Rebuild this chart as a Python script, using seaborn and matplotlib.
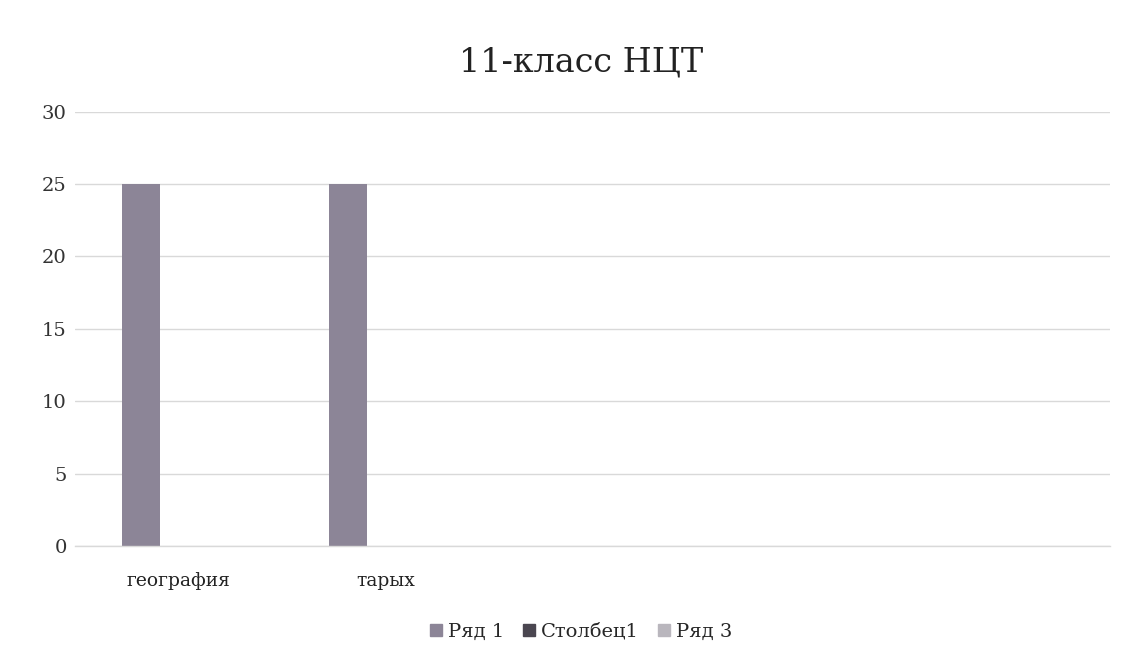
import pandas as pd
import matplotlib.pyplot as plt
import seaborn as sns

# chart data
subjects = ["география", "тарых"]
series_names = ["Ряд 1", "Столбец1", "Ряд 3"]
row1 = [25, 25]
column1 = [0, 0]
row3 = [0, 0]
n_slots = 5  # category slots on the axis (three of them empty)

colors = ["#8c8597", "#4a4650", "#b9b6bd"]

df = pd.DataFrame({
    "subject": subjects * 3,
    "series": [s for s in series_names for _ in subjects],
    "value": row1 + column1 + row3,
})

sns.set_theme(style="white")
plt.rcParams["font.family"] = ["DejaVu Serif"]

fig = plt.figure(figsize=(11.22, 6.61), dpi=100)
ax = fig.add_axes([0.067, 0.174, 0.922, 0.657])

sns.barplot(data=df, x="subject", y="value", hue="series", order=subjects,
            hue_order=series_names, palette=colors, width=0.55,
            saturation=1, legend=False, linewidth=0, ax=ax)

ax.set_xlim(-0.5, n_slots - 0.5)
ax.set_ylim(0, 30)
ax.set_yticks(range(0, 31, 5))
ax.yaxis.grid(True, color="#d9d9d9", linewidth=1)
ax.set_axisbelow(True)
for side in ["top", "right", "left"]:
    ax.spines[side].set_visible(False)
ax.spines["bottom"].set_color("#d9d9d9")
ax.spines["bottom"].set_linewidth(1)
ax.set_xlabel("")
ax.set_ylabel("")
ax.tick_params(axis="y", labelsize=14, colors="#333333", pad=6, length=0)
ax.tick_params(axis="x", labelsize=13.5, colors="#222222", pad=19, length=0)

fig.text(0.518, 0.905, "11-класс НЦТ", ha="center", va="center",
         fontsize=24, color="#222222")

handles = [plt.Rectangle((0, 0), 1, 1, color=c) for c in colors]
fig.legend(handles, series_names, loc="center", bbox_to_anchor=(0.518, 0.044),
           ncol=3, frameon=False, fontsize=14, handlelength=0.6,
           handleheight=0.6, handletextpad=0.3, columnspacing=1.0)

fig.savefig("out.png", dpi=100, facecolor="white")
